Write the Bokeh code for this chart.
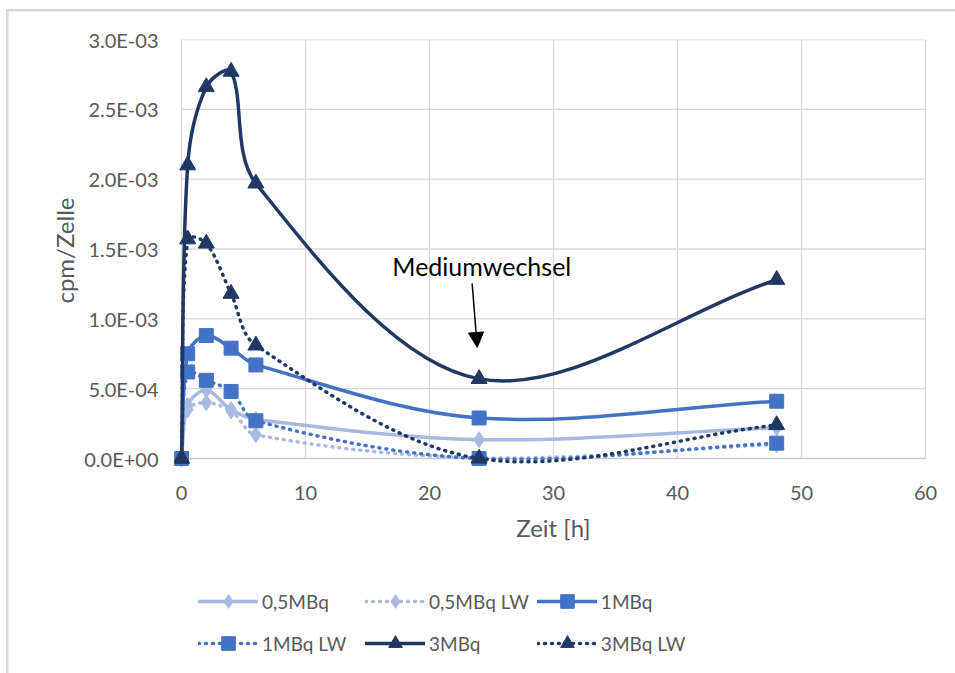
from bokeh.plotting import figure
from bokeh.models import (ColumnDataSource, FixedTicker, Legend, LegendItem, Label,
                          Arrow, NormalHead, Range1d, Title)
from bokeh.embed import file_html
from bokeh.resources import INLINE

# ---------------- data ----------------
hours = [0, 0.5, 2, 4, 6, 24, 48]
s05 = [0.0, 3.8e-4, 4.9e-4, 3.5e-4, 2.8e-4, 1.35e-4, 2.2e-4]
s05_lw = [0.0, 3.5e-4, 4.0e-4, 3.4e-4, 1.7e-4, 0.05e-4, 1.0e-4]
s1 = [0.0, 7.5e-4, 8.8e-4, 7.9e-4, 6.7e-4, 2.9e-4, 4.1e-4]
s1_lw = [0.0, 6.2e-4, 5.6e-4, 4.8e-4, 2.7e-4, 0.0, 1.1e-4]
s3 = [0.0, 2.10e-3, 2.66e-3, 2.77e-3, 1.97e-3, 5.7e-4, 1.28e-3]
s3_lw = [0.0, 1.57e-3, 1.54e-3, 1.18e-3, 8.1e-4, 0.0, 2.4e-4]

series_names = ["0,5MBq", "0,5MBq LW", "1MBq", "1MBq LW", "3MBq", "3MBq LW"]
series_values = [s05, s05_lw, s1, s1_lw, s3, s3_lw]

x_ticks = [0, 10, 20, 30, 40, 50, 60]
y_ticks = [0.0, 0.0005, 0.001, 0.0015, 0.002, 0.0025, 0.003]
y_tick_labels = ["0.0E+00", "5.0E-04", "1.0E-03", "1.5E-03", "2.0E-03", "2.5E-03", "3.0E-03"]

annotation_text = "Mediumwechsel"
x_title = "Zeit [h]"
y_title = "cpm/Zelle"

# ---------------- styles ----------------
LIGHT = "#A9B9DF"
MID = "#4472C4"
DARK = "#203864"
styles = [
    dict(color=LIGHT, dash="solid", marker="diamond", size=16),
    dict(color=LIGHT, dash="1 6", marker="diamond", size=16),
    dict(color=MID, dash="solid", marker="square", size=14),
    dict(color=MID, dash="1 6", marker="square", size=14),
    dict(color=DARK, dash="solid", marker="triangle", size=16),
    dict(color=DARK, dash="1 6", marker="triangle", size=16),
]
FONT = "Lato"
GREY_TXT = "#595959"
GRID = "#D9D9D9"

# layout in pixels: frame 174..950 x 39..668; x=0 at 181 px, x=60 at 925 px; y=0 at 458 px
W, H = 955, 673
FRAME_L, FRAME_R, FRAME_T, FRAME_B = 174, 950, 39, 668
PX_X0, PX_X60, PX_Y0 = 181, 925, 458
SX = (PX_X60 - PX_X0) / (x_ticks[-1] - x_ticks[0])      # px per x unit
SY = (PX_Y0 - FRAME_T) / y_ticks[-1]                    # px per y unit
X0 = x_ticks[0] - (PX_X0 - FRAME_L) / SX
X1 = x_ticks[-1] + (FRAME_R - PX_X60) / SX
Y0 = -(FRAME_B - PX_Y0) / SY
Y1 = y_ticks[-1]


def smooth_segments(xs, ys):
    """Bezier control points for a smoothed line (chord-weighted Catmull-Rom in pixel space)."""
    n = len(xs)
    P = [(x * SX, y * SY) for x, y in zip(xs, ys)]

    def dist(a, b):
        return ((P[a][0] - P[b][0]) ** 2 + (P[a][1] - P[b][1]) ** 2) ** 0.5

    out = dict(x0=[], y0=[], x1=[], y1=[], cx0=[], cy0=[], cx1=[], cy1=[])
    for i in range(n - 1):
        a = i - 1 if i > 0 else i
        d = i + 2 if i + 2 < n else i + 1
        d_ab = dist(a, i)
        d_bc = dist(i, i + 1)
        d_cd = dist(i + 1, d)
        f1 = d_bc / (d_ab + d_bc) / 3.0 if (d_ab + d_bc) > 0 else 0
        f2 = d_bc / (d_bc + d_cd) / 3.0 if (d_bc + d_cd) > 0 else 0
        c0 = (P[i][0] + (P[i + 1][0] - P[a][0]) * f1, P[i][1] + (P[i + 1][1] - P[a][1]) * f1)
        c1 = (P[i + 1][0] - (P[d][0] - P[i][0]) * f2, P[i + 1][1] - (P[d][1] - P[i][1]) * f2)
        out["x0"].append(xs[i]); out["y0"].append(ys[i])
        out["x1"].append(xs[i + 1]); out["y1"].append(ys[i + 1])
        out["cx0"].append(c0[0] / SX); out["cy0"].append(c0[1] / SY)
        out["cx1"].append(c1[0] / SX); out["cy1"].append(c1[1] / SY)
    return out


p = figure(width=W, height=H, output_backend="svg", toolbar_location=None,
           x_range=Range1d(X0, X1), y_range=Range1d(Y0, Y1),
           min_border_left=FRAME_L, min_border_right=W - FRAME_R, min_border_top=FRAME_T,
           min_border_bottom=H - FRAME_B)
p.outline_line_color = None
p.xgrid.visible = False
p.ygrid.visible = False
p.background_fill_color = "white"
p.border_fill_color = None
p.styles = {
    "background": ("linear-gradient(#D9D9D9,#D9D9D9) 6px 9px / 2.5px 100% no-repeat, "
                   "linear-gradient(#D9D9D9,#D9D9D9) 6px 9px / 100% 2.5px no-repeat, white")
}

# grid lines (within data area only)
n_x = len(x_ticks)
p.segment(x0=x_ticks, y0=[y_ticks[0]] * n_x, x1=x_ticks, y1=[y_ticks[-1]] * n_x,
          line_color=GRID, line_width=1.3, level="underlay")
n_y = len(y_ticks) - 1
p.segment(x0=[x_ticks[0]] * n_y, y0=y_ticks[1:], x1=[x_ticks[-1]] * n_y, y1=y_ticks[1:],
          line_color=GRID, line_width=1.3, level="underlay")
# x axis line at y = 0
p.segment(x0=[x_ticks[0]], y0=[y_ticks[0]], x1=[x_ticks[-1]], y1=[y_ticks[0]],
          line_color="#C8C8C8", line_width=1.6, level="underlay")

items = []
for name, vals, st in zip(series_names, series_values, styles):
    seg = ColumnDataSource(smooth_segments(hours, vals))
    bz = p.bezier(x0="x0", y0="y0", x1="x1", y1="y1", cx0="cx0", cy0="cy0", cx1="cx1",
                  cy1="cy1", source=seg, line_color=st["color"], line_width=3.5,
                  line_dash=st["dash"], line_cap="round", line_join="round")
    sc = p.scatter(x=hours, y=vals, marker=st["marker"], size=st["size"],
                   fill_color=st["color"], line_color=st["color"], line_width=1)
    items.append(LegendItem(label=name, renderers=[bz, sc], index=0))

# axes
for ax in (p.xaxis[0], p.yaxis[0]):
    ax.major_tick_in = 0
    ax.major_tick_out = 0
    ax.minor_tick_in = 0
    ax.minor_tick_out = 0
    ax.axis_line_color = None
    ax.major_label_text_font = FONT
    ax.major_label_text_font_size = "20px"
    ax.major_label_text_color = GREY_TXT
    ax.axis_label_text_font = FONT
    ax.axis_label_text_font_size = "24px"
    ax.axis_label_text_font_style = "normal"
    ax.axis_label_text_color = GREY_TXT

p.xaxis.ticker = FixedTicker(ticks=x_ticks)
p.xaxis.fixed_location = 0
p.xaxis.bounds = (x_ticks[0], x_ticks[-1])
p.xaxis.major_label_standoff = 27
p.xaxis.axis_label = x_title
p.xaxis.axis_label_standoff = 10

p.yaxis.ticker = FixedTicker(ticks=y_ticks)
p.yaxis.bounds = (y_ticks[0], y_ticks[-1])
p.yaxis.major_label_overrides = dict(zip(y_ticks, y_tick_labels))
p.yaxis.major_label_standoff = 16

# y axis title, placed along the 0..3E-03 part of the axis (text top at ~197 px)
p.add_layout(Title(text=y_title, align="right", offset=158,
                   text_font=FONT, text_font_size="24px", text_font_style="normal",
                   text_color=GREY_TXT, standoff=6), "left")

# annotation
p.add_layout(Label(x=17.0, y=1.375e-3, text=annotation_text, text_font=FONT,
                   text_font_size="25px", text_color="black", text_baseline="middle"))
p.add_layout(Arrow(end=NormalHead(size=15, fill_color="black", line_color="black"),
                   x_start=23.44, y_start=1.253e-3, x_end=23.85, y_end=0.795e-3,
                   line_color="black", line_width=1.5))

# legend (inside the lower part of the frame, under the x axis)
legend = Legend(items=items, location=(24, 8), orientation="horizontal", ncols=3,
                glyph_width=60, glyph_height=34, label_height=34, label_width=95,
                label_standoff=4, spacing=8, padding=0, margin=0,
                label_text_font=FONT, label_text_font_size="19px",
                label_text_color=GREY_TXT, border_line_color=None,
                background_fill_alpha=0)
p.add_layout(legend)

open("out.html", "w").write(file_html(p, INLINE))
